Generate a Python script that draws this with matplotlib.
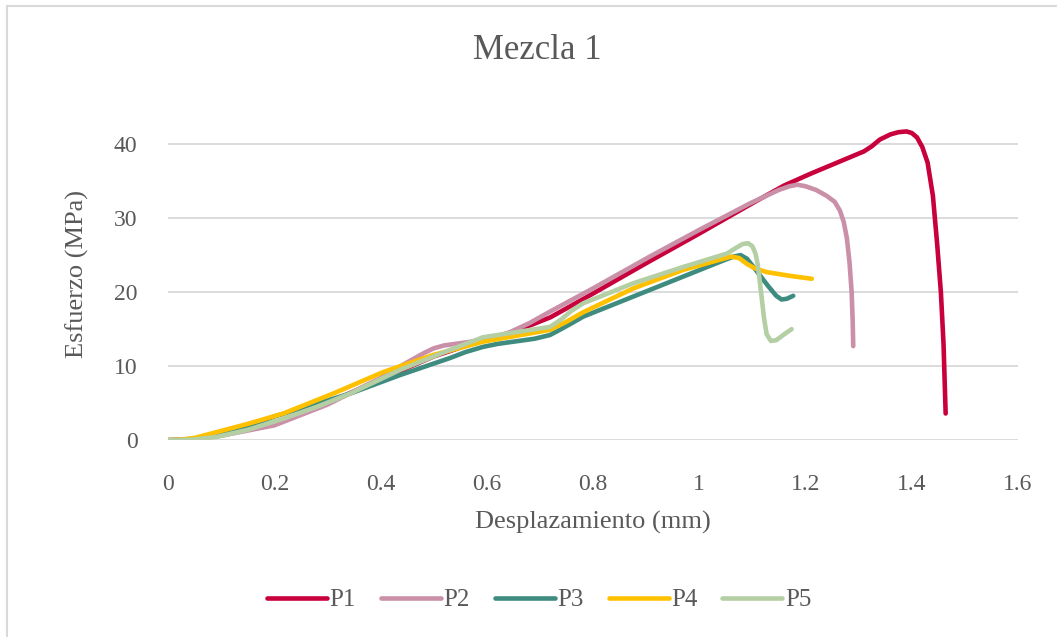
import matplotlib
matplotlib.use("Agg")
import matplotlib.pyplot as plt
from matplotlib.lines import Line2D

# Stress–displacement curves, mixture 1 (five specimens)
p1_x = [0, 0.025, 0.05, 0.1, 0.2, 0.3, 0.4, 0.5, 0.55, 0.6, 0.65, 0.72, 0.8, 0.9, 1.0, 1.1,
        1.16, 1.21, 1.27, 1.31, 1.325, 1.34, 1.36, 1.375, 1.39, 1.40, 1.41, 1.42, 1.43,
        1.44, 1.448, 1.455, 1.46, 1.464]
p1_y = [0, 0.05, 0.2, 0.7, 2.2, 5.0, 8.2, 11.3, 12.5, 13.6, 14.6, 16.6, 19.8, 23.9, 27.9, 32.0,
        34.4, 36.0, 37.8, 39.0, 39.7, 40.6, 41.3, 41.6, 41.7, 41.5, 40.9, 39.6, 37.5,
        33.0, 26.5, 20.0, 13.0, 3.6]

p2_x = [0, 0.025, 0.05, 0.1, 0.2, 0.3, 0.4, 0.45, 0.48, 0.5, 0.52, 0.55, 0.58, 0.61, 0.644,
        0.68, 0.72, 0.8, 0.907, 1.0, 1.096, 1.15, 1.17, 1.185, 1.2, 1.22, 1.24, 1.255,
        1.265, 1.272, 1.278, 1.283, 1.287, 1.289, 1.29]
p2_y = [0, 0.05, 0.2, 0.6, 2.0, 4.8, 8.4, 10.5, 11.7, 12.4, 12.8, 13.1, 13.4, 13.8, 14.6,
        15.8, 17.4, 20.5, 24.8, 28.4, 32.0, 33.8, 34.3, 34.5, 34.3, 33.8, 33.0, 32.2,
        31.0, 29.5, 27.3, 24.0, 20.0, 16.0, 12.7]

p3_x = [0, 0.025, 0.05, 0.092, 0.15, 0.2, 0.27, 0.343, 0.437, 0.531, 0.56, 0.593, 0.62,
        0.65, 0.69, 0.719, 0.74, 0.76, 0.782, 0.876, 0.97, 1.05, 1.065, 1.078, 1.09, 1.10,
        1.115, 1.13, 1.145, 1.155, 1.165, 1.177]
p3_y = [0, 0.02, 0.1, 0.7, 1.8, 3.2, 4.7, 6.3, 8.8, 11.1, 11.9, 12.6, 13.0,
        13.3, 13.7, 14.2, 15.0, 15.8, 16.7, 19.4, 22.1, 24.4, 24.8, 25.0, 24.5, 23.6,
        22.2, 20.8, 19.5, 19.0, 19.1, 19.5]

p4_x = [0, 0.025, 0.05, 0.092, 0.15, 0.217, 0.311, 0.405, 0.499, 0.593, 0.656, 0.719, 0.75,
        0.782, 0.876, 0.97, 1.04, 1.06, 1.075, 1.09, 1.105, 1.127, 1.17, 1.212]
p4_y = [0, 0.08, 0.3, 1.1, 2.2, 3.6, 6.3, 9.2, 11.5, 13.3, 14.1, 14.9, 16.0,
        17.3, 20.5, 23.0, 24.4, 24.8, 24.6, 23.8, 23.2, 22.7, 22.2, 21.8]

p5_x = [0, 0.025, 0.05, 0.092, 0.15, 0.217, 0.28, 0.343, 0.437, 0.531, 0.593, 0.656, 0.719,
        0.74, 0.76, 0.782, 0.876, 0.97, 1.052, 1.07, 1.082, 1.092, 1.1, 1.106, 1.11, 1.114,
        1.118, 1.122, 1.127, 1.135, 1.145, 1.16, 1.174]
p5_y = [0, 0.02, 0.1, 0.45, 1.4, 2.9, 4.5, 6.3, 9.5, 12.2, 13.9, 14.6, 15.3,
        16.3, 17.5, 18.5, 21.2, 23.4, 25.2, 26.0, 26.5, 26.6, 26.2, 25.2, 23.8, 21.5,
        19.0, 16.5, 14.3, 13.4, 13.5, 14.3, 15.0]

series_names = ["P1", "P2", "P3", "P4", "P5"]
series_colors = ["#C8003C", "#C990A8", "#3E8C80", "#FFC000", "#B5CFA5"]
x_ticks = [0, 0.2, 0.4, 0.6, 0.8, 1, 1.2, 1.4, 1.6]
x_tick_labels = ["0", "0.2", "0.4", "0.6", "0.8", "1", "1.2", "1.4", "1.6"]
y_ticks = [0, 10, 20, 30, 40]

text_color = "#595959"
grid_color = "#D9D9D9"
plt.rcParams["font.family"] = ["Liberation Serif", "DejaVu Serif"]

fig = plt.figure(figsize=(10.57, 6.37), dpi=100)
ax = fig.add_axes([0.159, 0.309, 0.804, 0.523])

data = [(p1_x, p1_y), (p2_x, p2_y), (p3_x, p3_y), (p4_x, p4_y), (p5_x, p5_y)]
for (xs, ys), name, color in zip(data, series_names, series_colors):
    ax.plot(xs, ys, color=color, lw=3.3, label=name,
            solid_capstyle="round", solid_joinstyle="round")

ax.set_xlim(0, 1.6)
ax.set_ylim(0, 45)
ax.set_xticks(x_ticks)
ax.set_xticklabels(x_tick_labels)
ax.set_yticks(y_ticks)
ax.grid(axis="y", color=grid_color, lw=1.3)
ax.set_axisbelow(True)
for s in ax.spines.values():
    s.set_visible(False)
ax.tick_params(length=0, labelsize=17, labelcolor=text_color)
ax.tick_params(axis="x", pad=24)
ax.tick_params(axis="y", pad=22)

ax.set_xlabel("Desplazamiento (mm)", fontsize=19, color=text_color, labelpad=12)
ax.set_ylabel("Esfuerzo (MPa)", fontsize=19, color=text_color, labelpad=18)
fig.text(0.508, 0.92, "Mezcla 1", ha="center", va="center", fontsize=25, color=text_color)

handles = [Line2D([], [], color=c, lw=3.3, solid_capstyle="round") for c in series_colors]
fig.legend(handles, series_names, loc="center", bbox_to_anchor=(0.51, 0.058), ncol=5,
           frameon=False, fontsize=18, labelcolor=text_color, handlelength=2.4,
           handletextpad=0.1, columnspacing=1.0)

# chart frame (top and left edges)
fig.add_artist(Line2D([0.0066, 1.0], [0.991, 0.991], transform=fig.transFigure,
                      color=grid_color, lw=1.5))
fig.add_artist(Line2D([0.0066, 0.0066], [0.0, 0.991], transform=fig.transFigure,
                      color=grid_color, lw=1.5))

fig.savefig("out.png", dpi=100)
